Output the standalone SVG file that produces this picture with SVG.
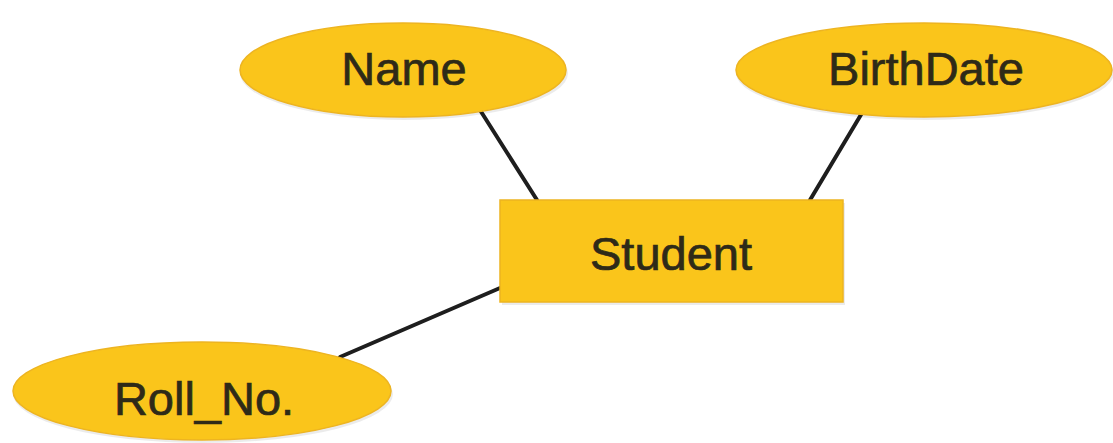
<svg xmlns="http://www.w3.org/2000/svg" width="1113" height="443" viewBox="0 0 1113 443">
  <style>
    .shape { fill: #FAC51B; stroke: #EDB421; stroke-width: 1.5; }
    .shadow { fill: #000; opacity: 0.08; }
    .label { font-family: "Liberation Sans", Arial, sans-serif; font-size: 47px; fill: #2e2a18; stroke: #2e2a18; stroke-width: 0.7; text-anchor: middle; }
    .conn { stroke: #1e1e1e; stroke-width: 4; stroke-linecap: round; fill: none; }
  </style>
  <rect width="1113" height="443" fill="#ffffff"/>
  <g id="connectors">
    <line class="conn" x1="480" y1="110" x2="537" y2="200"/>
    <line class="conn" x1="862" y1="113" x2="810" y2="200"/>
    <line class="conn" x1="340" y1="357" x2="500" y2="288"/>
  </g>
  <g id="name">
    <ellipse class="shadow" cx="404" cy="73" rx="164" ry="47"/>
    <ellipse class="shape" cx="403" cy="70" rx="163" ry="47"/>
    <text class="label" x="404" y="85">Name</text>
  </g>
  <g id="birthdate">
    <ellipse class="shadow" cx="925" cy="73" rx="189" ry="47"/>
    <ellipse class="shape" cx="924" cy="70" rx="188" ry="47"/>
    <text class="label" x="926" y="85">BirthDate</text>
  </g>
  <g id="student">
    <rect class="shadow" x="502" y="203" width="343" height="102"/>
    <rect class="shape" x="500" y="200" width="343" height="102"/>
    <text class="label" x="671" y="270">Student</text>
  </g>
  <g id="roll_no">
    <ellipse class="shadow" cx="203" cy="394" rx="190" ry="49"/>
    <ellipse class="shape" cx="202" cy="391" rx="189" ry="49"/>
    <text class="label" x="204" y="415">Roll_No.</text>
  </g>
</svg>
